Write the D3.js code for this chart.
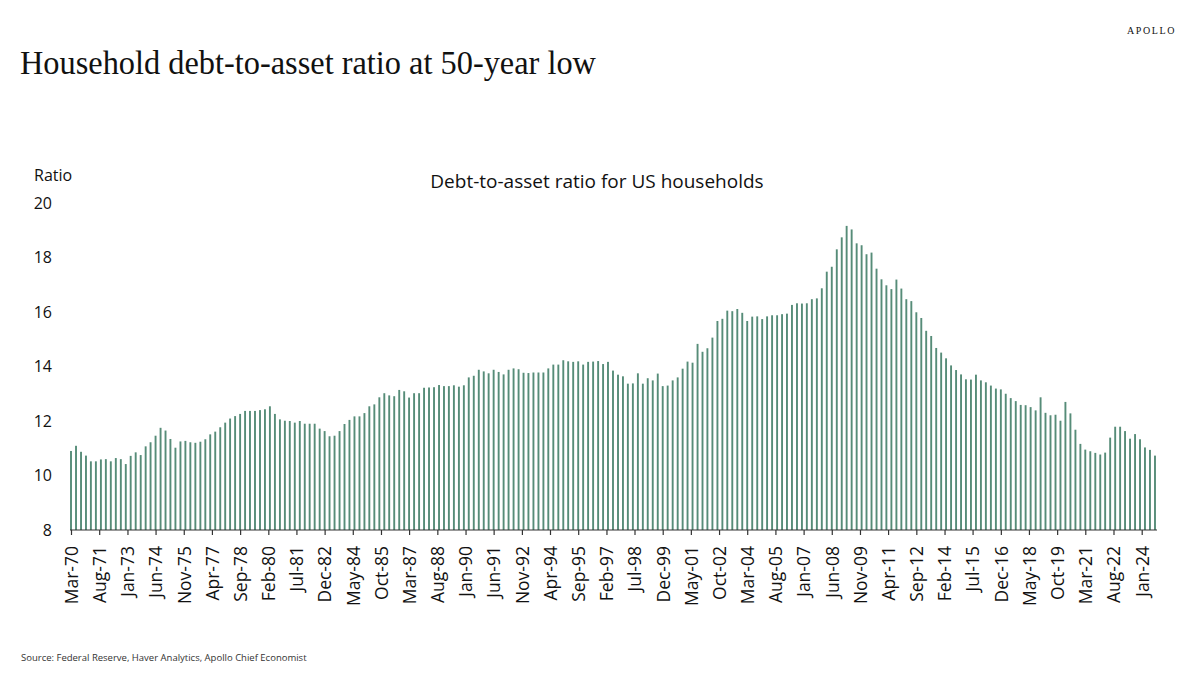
<!DOCTYPE html>
<html>
<head>
<meta charset="utf-8">
<script src="https://cdn.jsdelivr.net/npm/d3@7"></script>
<style>
  body { margin: 0; background: #fff; }
  text { font-family: "Open Sans", "Noto Sans", sans-serif; fill: #111; }
</style>
</head>
<body>
<svg id="chart" width="1200" height="687"></svg>
<script>
// Quarterly debt-to-asset ratio, Mar-70 .. Sep-24
const firstQuarter = "Mar-70";
const ratios = [
  10.90, 11.09, 10.87, 10.73, 10.52, 10.52, 10.59, 10.60, 10.52, 10.64,
  10.60, 10.42, 10.72, 10.85, 10.75, 11.07, 11.22, 11.46, 11.75, 11.65,
  11.34, 11.02, 11.25, 11.27, 11.22, 11.20, 11.24, 11.33, 11.51, 11.61,
  11.77, 11.94, 12.09, 12.18, 12.26, 12.37, 12.37, 12.37, 12.40,
  12.43, 12.54, 12.26, 12.06, 12.01, 12.00, 11.94, 12.00, 11.90, 11.90,
  11.90, 11.72, 11.63, 11.44, 11.46, 11.63, 11.89, 12.04, 12.17, 12.17,
  12.29, 12.54, 12.61, 12.87, 13.02, 12.94, 12.91, 13.14, 13.09, 12.86,
  13.02, 13.02, 13.22, 13.23, 13.24, 13.32, 13.28, 13.28,
  13.31, 13.26, 13.31, 13.60, 13.66, 13.88, 13.82, 13.75, 13.88, 13.80,
  13.71, 13.88, 13.93, 13.90, 13.77, 13.76, 13.78, 13.78, 13.78, 13.93,
  14.07, 14.07, 14.23, 14.19, 14.17, 14.19, 14.07, 14.17, 14.18, 14.20,
  14.09, 14.17, 13.85, 13.70, 13.64, 13.37, 13.38, 13.75,
  13.37, 13.57, 13.49, 13.74, 13.28, 13.30, 13.49, 13.60, 13.92, 14.18,
  14.14, 14.83, 14.54, 14.67, 15.06, 15.67, 15.75, 16.05, 16.03, 16.11,
  15.97, 15.67, 15.83, 15.84, 15.74, 15.84, 15.88, 15.88, 15.92, 15.94,
  16.26, 16.32, 16.31, 16.32, 16.47, 16.50,
  16.87, 17.48, 17.66, 18.30, 18.74, 19.16, 19.03, 18.52, 18.45, 18.12,
  18.18, 17.59, 17.20, 16.98, 16.84, 17.19, 16.86, 16.47, 16.40, 15.99,
  15.78, 15.31, 15.12, 14.68, 14.51, 14.30, 14.04, 13.87, 13.71, 13.53,
  13.52, 13.70, 13.49, 13.42, 13.30, 13.19, 13.16, 13.00,
  12.84, 12.73, 12.59, 12.58, 12.51, 12.39, 12.87, 12.30, 12.21, 12.23,
  12.01, 12.70, 12.28, 11.68, 11.16, 10.95, 10.89, 10.83, 10.77, 10.84,
  11.39, 11.79, 11.79, 11.63, 11.35, 11.52, 11.33, 11.03, 10.94, 10.73
];

// x-axis tick labels (every 17 months, as on the original)
const tickLabels = [
  "Mar-70", "Aug-71", "Jan-73", "Jun-74", "Nov-75", "Apr-77", "Sep-78", "Feb-80",
  "Jul-81", "Dec-82", "May-84", "Oct-85", "Mar-87", "Aug-88", "Jan-90", "Jun-91",
  "Nov-92", "Apr-94", "Sep-95", "Feb-97", "Jul-98", "Dec-99", "May-01", "Oct-02",
  "Mar-04", "Aug-05", "Jan-07", "Jun-08", "Nov-09", "Apr-11", "Sep-12", "Feb-14",
  "Jul-15", "Dec-16", "May-18", "Oct-19", "Mar-21", "Aug-22", "Jan-24"
];
const yTicks = [8, 10, 12, 14, 16, 18, 20];

const parse = d3.timeParse("%b-%y");
const fmt = d3.timeFormat("%b-%y");
const start = parse(firstQuarter);
const data = ratios.map((v, i) => ({ date: d3.timeMonth.offset(start, 3 * i), value: v }));
const tickDates = tickLabels.map(parse);

const svg = d3.select("#chart");

// scales
const x = d3.scaleTime()
    .domain([tickDates[0], tickDates[tickDates.length - 1]])
    .range([71, 1141.7]);
const y = d3.scaleLinear()
    .domain([8, 20])
    .range([530, 203]);

// headline + brand
svg.append("text")
    .attr("x", 20).attr("y", 74)
    .attr("textLength", 576).attr("lengthAdjust", "spacingAndGlyphs")
    .style("font-family", "'Liberation Serif', 'DejaVu Serif', serif")
    .style("font-size", "33px")
    .text("Household debt-to-asset ratio at 50-year low");

svg.append("text")
    .attr("x", 1176).attr("y", 34)
    .attr("text-anchor", "end")
    .style("font-family", "'Liberation Serif', serif")
    .style("font-size", "10px")
    .style("letter-spacing", "1.6px")
    .text("APOLLO");

// chart title
svg.append("text")
    .attr("x", 597).attr("y", 188)
    .attr("text-anchor", "middle")
    .style("font-size", "19px")
    .text("Debt-to-asset ratio for US households");

svg.append("text")
    .attr("x", 34).attr("y", 181)
    .style("font-size", "16px")
    .text("Ratio");

// y labels (no axis line)
svg.append("g").selectAll("text")
    .data(yTicks)
    .enter()
    .append("text")
    .attr("x", 52)
    .attr("y", d => y(d))
    .attr("dy", "0.35em")
    .attr("text-anchor", "end")
    .style("font-size", "16px")
    .text(d => d);

// bars
svg.append("g")
    .attr("class", "bars")
    .selectAll("rect")
    .data(data)
    .enter()
    .append("rect")
    .attr("x", d => x(d.date) - 0.95)
    .attr("width", 1.9)
    .attr("y", d => y(d.value))
    .attr("height", d => y(8) - y(d.value))
    .attr("fill", "#568c78");

// x axis
const xAxis = d3.axisBottom(x)
    .tickValues(tickDates)
    .tickSize(5)
    .tickSizeOuter(0)
    .tickFormat(fmt);

const gx = svg.append("g")
    .attr("transform", `translate(0,${y(8)})`)
    .call(xAxis);

gx.select(".domain").remove();
gx.append("line")
    .attr("x1", 70).attr("x2", 1157)
    .attr("stroke", "#333").attr("stroke-width", 1.2);
gx.selectAll(".tick line").attr("stroke", "#333").attr("stroke-width", 1.2);
gx.selectAll(".tick text")
    .attr("transform", "rotate(-90)")
    .attr("x", -16)
    .attr("y", 0)
    .attr("dy", "0.36em")
    .attr("text-anchor", "end")
    .style("font-family", "'Open Sans', 'Noto Sans', sans-serif")
    .style("font-size", "17.5px")
    .style("fill", "#111");

// source
svg.append("text")
    .attr("x", 21).attr("y", 661)
    .style("font-size", "9.5px")
    .style("fill", "#333")
    .text("Source: Federal Reserve, Haver Analytics, Apollo Chief Economist");
</script>
</body>
</html>
